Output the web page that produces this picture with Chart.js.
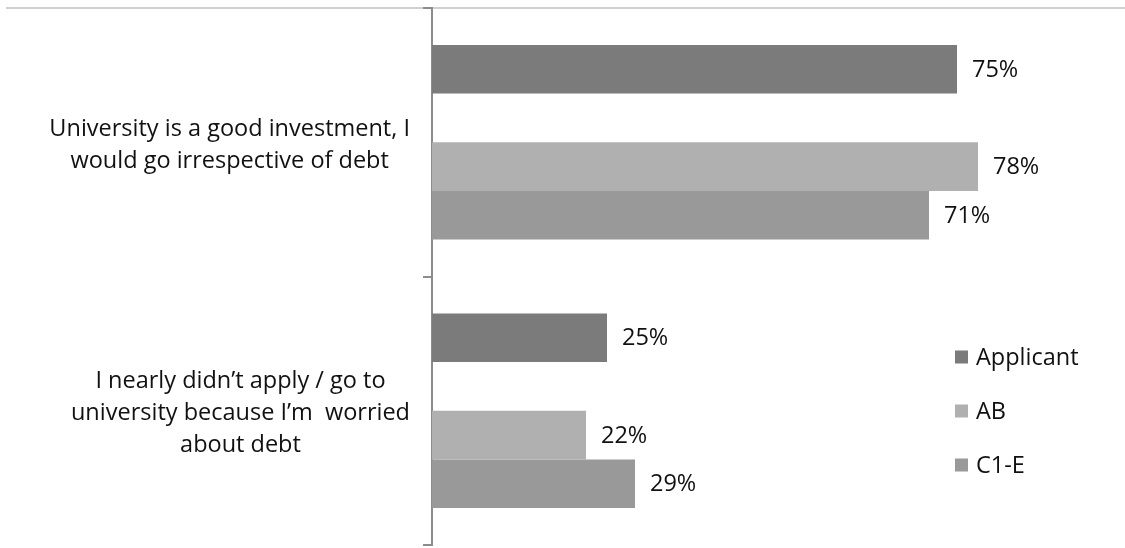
<!DOCTYPE html>
<html>
<head>
<meta charset="utf-8">
<script src="https://cdn.jsdelivr.net/npm/chart.js@4.4.0/dist/chart.umd.min.js"></script>
<style>
  html, body { margin: 0; padding: 0; background: #ffffff; }
  #wrap { width: 1125px; height: 548px; position: relative; }
</style>
</head>
<body>
<div id="wrap"><canvas id="c" width="1125" height="548"></canvas></div>
<script>
const categories = [
  ["University is a good investment, I", "would go irrespective of debt"],
  ["I nearly didn\u2019t apply / go to", "university because I\u2019m  worried", "about debt"]
];
const seriesNames = ["Applicant", "", "AB", "C1-E"];
const applicantValues = [75, 25];
const spacerValues = [null, null];
const abValues = [78, 22];
const c1eValues = [71, 29];
const seriesColors = ["#7b7b7b", "#ffffff", "#b0b0b0", "#999999"];

const FONT = "'Open Sans', 'Liberation Sans', sans-serif";
const FONT_SIZE = 23.5;

const valueLabels = {
  id: 'valueLabels',
  afterDatasetsDraw(chart) {
    const ctx = chart.ctx;
    ctx.save();
    ctx.font = FONT_SIZE + 'px ' + FONT;
    ctx.fillStyle = '#111111';
    ctx.textAlign = 'left';
    ctx.textBaseline = 'middle';
    chart.data.datasets.forEach((ds, i) => {
      if (!ds.label) return;
      const meta = chart.getDatasetMeta(i);
      meta.data.forEach((bar, j) => {
        const v = ds.data[j];
        if (v == null) return;
        ctx.fillText(v + '%', bar.x + 15, bar.y + 1);
      });
    });
    ctx.restore();
  }
};

const categoryLabels = {
  id: 'categoryLabels',
  afterDraw(chart) {
    const ctx = chart.ctx;
    const y = chart.scales.y;
    const lineH = 32;
    const rightEdge = 410;
    ctx.save();
    ctx.font = FONT_SIZE + 'px ' + FONT;
    ctx.fillStyle = '#111111';
    ctx.textAlign = 'center';
    ctx.textBaseline = 'middle';
    chart.data.labels.forEach((lines, i) => {
      const cy = y.getPixelForValue(i);
      const widest = Math.max(...lines.map(l => ctx.measureText(l).width));
      const cx = rightEdge - widest / 2;
      const top = cy - (lines.length - 1) * lineH / 2;
      lines.forEach((l, k) => ctx.fillText(l, cx, top + k * lineH + 3));
    });
    ctx.restore();
  }
};

const legendBox = {
  id: 'legendBox',
  afterDraw(chart) {
    const ctx = chart.ctx;
    ctx.save();
    ctx.font = FONT_SIZE + 'px ' + FONT;
    ctx.textAlign = 'left';
    ctx.textBaseline = 'middle';
    const x0 = 955, y0 = 357, step = 54, sq = 13;
    let k = 0;
    chart.data.datasets.forEach(ds => {
      if (!ds.label) return;
      const cy = y0 + k * step;
      ctx.fillStyle = ds.backgroundColor;
      ctx.fillRect(x0, cy - sq / 2, sq, sq);
      ctx.fillStyle = '#111111';
      ctx.fillText(ds.label, x0 + 21, cy + 1);
      k++;
    });
    ctx.restore();
  }
};

const topRule = {
  id: 'topRule',
  beforeDraw(chart) {
    const ctx = chart.ctx;
    ctx.save();
    ctx.strokeStyle = '#c0c0c0';
    ctx.lineWidth = 1.5;
    ctx.beginPath();
    ctx.moveTo(6, chart.chartArea.top);
    ctx.lineTo(chart.width, chart.chartArea.top);
    ctx.stroke();
    ctx.restore();
  }
};

const valueSets = [applicantValues, spacerValues, abValues, c1eValues];

new Chart(document.getElementById('c'), {
  type: 'bar',
  data: {
    labels: categories,
    datasets: seriesNames.map((name, i) => ({
      label: name,
      data: valueSets[i],
      backgroundColor: seriesColors[i],
      borderWidth: 0,
      categoryPercentage: 0.725,
      barPercentage: 1.0
    }))
  },
  options: {
    indexAxis: 'y',
    responsive: false,
    animation: false,
    layout: { padding: { left: 0, top: 8, right: 7, bottom: 3 } },
    plugins: {
      legend: { display: false },
      tooltip: { enabled: false }
    },
    scales: {
      x: {
        display: false,
        min: 0,
        max: 98
      },
      y: {
        offset: true,
        afterFit(scale) { scale.width = 432; },
        grid: {
          offset: true,
          drawOnChartArea: false,
          drawTicks: true,
          tickLength: 9,
          color: '#8c8c8c',
          lineWidth: 2
        },
        border: { display: true, color: '#8c8c8c', width: 2 },
        ticks: { display: false }
      }
    }
  },
  plugins: [topRule, valueLabels, categoryLabels, legendBox]
});
</script>
</body>
</html>
